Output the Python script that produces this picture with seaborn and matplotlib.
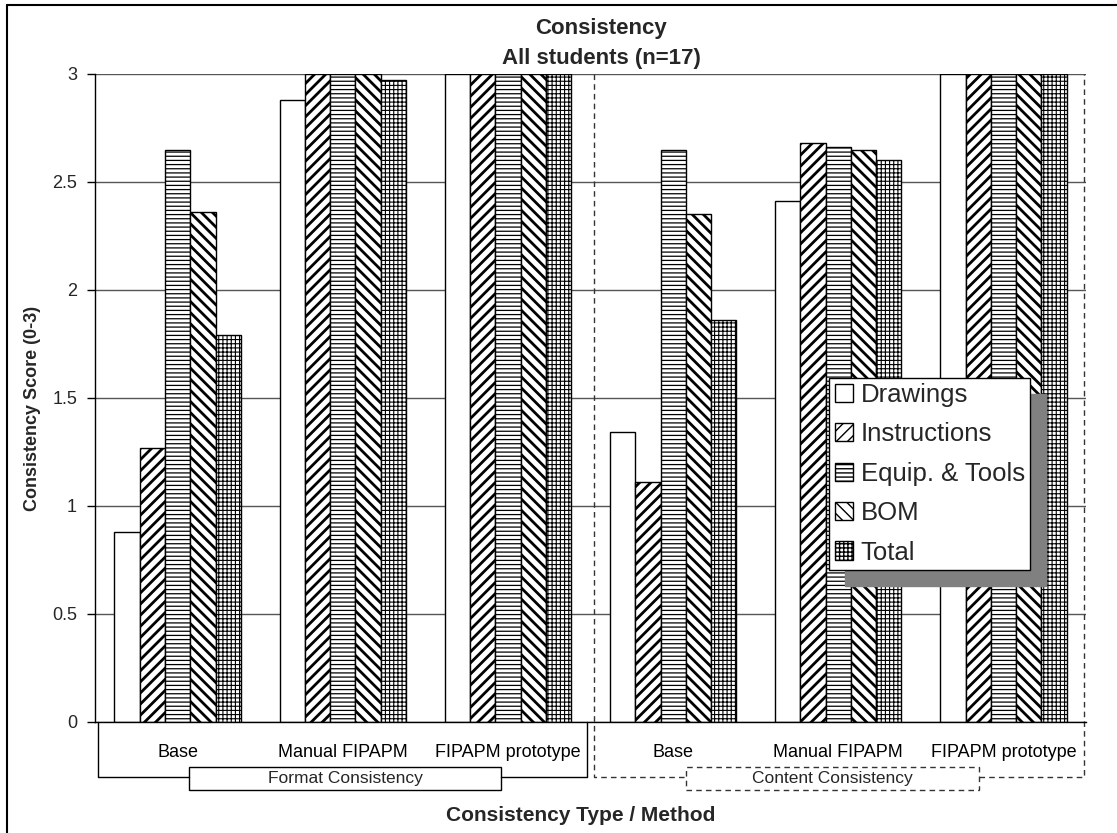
import pandas as pd
import matplotlib
import matplotlib.pyplot as plt
import matplotlib.transforms as mtransforms
from matplotlib.patches import Rectangle, Patch
from matplotlib.lines import Line2D
import seaborn as sns
matplotlib.use("Agg")

types = ["Format Consistency", "Content Consistency"]
methods = ["Base", "Manual FIPAPM", "FIPAPM prototype"]
parts = ["Drawings", "Instructions", "Equip. & Tools", "BOM", "Total"]

# one value per (type, method): format base/manual/prototype, content base/manual/prototype
drawings = [0.88, 2.88, 3.00, 1.34, 2.41, 3.00]
instructions = [1.27, 3.00, 3.00, 1.11, 2.68, 3.00]
equip_tools = [2.65, 3.00, 3.00, 2.65, 2.66, 3.00]
bom = [2.36, 3.00, 3.00, 2.35, 2.65, 3.00]
total = [1.79, 2.97, 3.00, 1.86, 2.60, 3.00]

yticks = [0, 0.5, 1, 1.5, 2, 2.5, 3]
ytick_labels = ["0", "0.5", "1", "1.5", "2", "2.5", "3"]

slots = [t + "|" + m for t in types for m in methods]
slot_labels = [m for t in types for m in methods]
series = {"Drawings": drawings, "Instructions": instructions,
          "Equip. & Tools": equip_tools, "BOM": bom, "Total": total}
rows = []
for part, vals in series.items():
	for s, v in zip(slots, vals):
		rows.append({"slot": s, "part": part, "score": v})
df = pd.DataFrame(rows)

sns.set_theme(style="white")
plt.rcParams["font.family"] = ["Liberation Sans", "DejaVu Sans"]
plt.rcParams["hatch.linewidth"] = 1.0
plt.rcParams["hatch.color"] = "black"

hatches = {"Drawings": "", "Instructions": "///", "Equip. & Tools": "----",
           "BOM": "\\\\\\", "Total": "++++"}
hatch_lw = {"Drawings": 1.0, "Instructions": 2.0, "Equip. & Tools": 0.9,
            "BOM": 2.0, "Total": 0.8}

fig = plt.figure(figsize=(11.17, 8.33), dpi=100)
ax = fig.add_axes([0.0851, 0.1336, 0.8872, 0.7776])
sns.barplot(data=df, x="slot", y="score", hue="part", order=slots, hue_order=parts,
            palette={p: "white" for p in parts}, saturation=1, width=0.765,
            edgecolor="black", linewidth=1.0, errorbar=None, legend=False, ax=ax)
for part, cont in zip(parts, ax.containers):
	for bar in cont:
		bar.set_hatch(hatches[part])
		if hasattr(bar, "set_hatch_linewidth"):
			bar.set_hatch_linewidth(hatch_lw[part])

ax.set_xlim(-0.5, 5.5)
ax.set_ylim(0, 3)
ax.set_yticks(yticks)
ax.set_yticklabels(ytick_labels, fontsize=13)
ax.set_xticks(range(6))
ax.set_xticklabels(slot_labels, fontsize=13)
ax.set_xticks([i - 0.5 for i in range(7)], minor=True)
ax.tick_params(axis="x", which="major", length=0, pad=16, colors="black")
ax.tick_params(axis="x", which="minor", length=6, width=1, direction="out", color="black")
ax.tick_params(axis="y", length=6, width=1, direction="out", color="black", pad=7, left=True)
ax.set_xlabel("")
ax.set_ylabel("")
ax.yaxis.grid(True, color="#555555", linewidth=1)
ax.set_axisbelow(True)
for s in ["top", "right"]:
	ax.spines[s].set_visible(False)
for s in ["left", "bottom"]:
	ax.spines[s].set_color("black")
	ax.spines[s].set_linewidth(1)

# group brackets under the axis
trans = mtransforms.blended_transform_factory(ax.transData, ax.transAxes)
yb, ybox0, ybox1 = -0.0854, -0.1055, -0.070
ax.plot([-0.48, -0.48, 0.07], [0, yb, yb], color="black", lw=1, transform=trans, clip_on=False)
ax.plot([1.96, 2.48, 2.48], [yb, yb, 0], color="black", lw=1, transform=trans, clip_on=False)
ax.add_patch(Rectangle((0.07, ybox0), 1.89, ybox1 - ybox0, fill=False, ec="black", lw=1,
                       transform=trans, clip_on=False))
ax.text(1.015, (ybox0 + ybox1) / 2, types[0], ha="center", va="center", fontsize=12.5,
        transform=trans)
dash = dict(color="#333333", lw=1, linestyle=(0, (4, 3)), transform=trans, clip_on=False)
ax.plot([2.52, 2.52, 3.08], [1, yb, yb], **dash)
ax.plot([4.85, 5.49, 5.49], [yb, yb, 1], **dash)
ax.add_patch(Rectangle((3.08, ybox0), 1.77, ybox1 - ybox0, fill=False, ec="#333333", lw=1,
                       linestyle=(0, (4, 3)), transform=trans, clip_on=False))
ax.text(3.965, (ybox0 + ybox1) / 2, types[1], ha="center", va="center", fontsize=12.5,
        transform=trans)

handles = [Patch(facecolor="white", edgecolor="black", hatch=hatches[p]) for p in parts]
leg = ax.legend(handles, parts, loc="upper left", bbox_to_anchor=(0.741, 0.531),
                fontsize=18.5, frameon=True, fancybox=False, edgecolor="black", framealpha=1,
                handlelength=0.72, handleheight=0.72, handletextpad=0.3, labelspacing=0.6,
                borderpad=0.2, borderaxespad=0)
leg.get_frame().set_linewidth(1)

fig.text(0.538, 0.948, "Consistency\nAll students (n=17)", ha="center", va="center",
         fontsize=16, fontweight="bold", linespacing=1.55)
fig.text(0.520, 0.021, "Consistency Type / Method", ha="center", va="center",
         fontsize=15, fontweight="bold")
fig.text(0.029, 0.510, "Consistency Score (0-3)", ha="center", va="center",
         rotation=90, fontsize=13, fontweight="bold")
fig.add_artist(Line2D([0.006, 0.006], [0, 0.994], color="black", lw=1.5, transform=fig.transFigure))
fig.add_artist(Line2D([0.006, 1], [0.994, 0.994], color="black", lw=1.5, transform=fig.transFigure))

# drop shadow behind the legend
fig.canvas.draw()
bb = leg.get_window_extent()
ax.add_patch(Rectangle((bb.x0 + 16, bb.y0 - 16), bb.width, bb.height, color="#808080",
                       transform=mtransforms.IdentityTransform(), zorder=4.5, clip_on=False))
fig.savefig("out.png", dpi=100)
